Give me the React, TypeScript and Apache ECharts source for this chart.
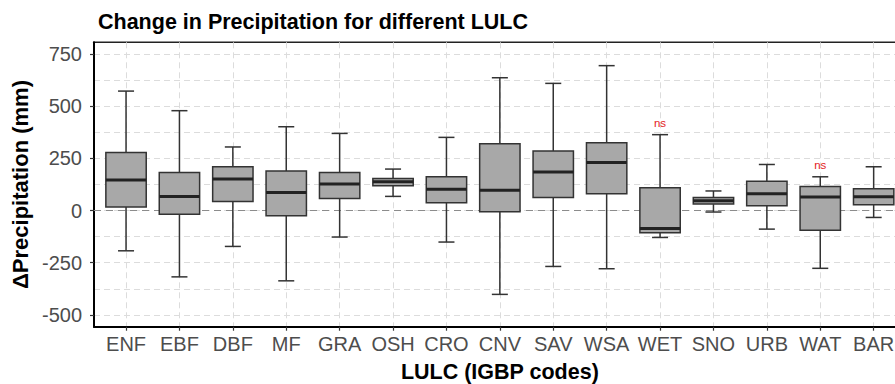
import React, { useEffect, useRef } from "react";
import * as echarts from "echarts";

const categories = ["ENF", "EBF", "DBF", "MF", "GRA", "OSH", "CRO", "CNV", "SAV", "WSA", "WET", "SNO", "URB", "WAT", "BAR"];
const whiskerLow = [-193, -318, -172, -337, -127, 68, -151, -402, -268, -279, -129, -7, -89, -277, -33];
const q1 = [17, -18, 44, -25, 58, 119, 38, -6, 63, 81, -106, 31, 23, -95, 28];
const median = [146, 68, 151, 87, 127, 138, 102, 97, 185, 231, -86, 47, 81, 65, 66];
const q3 = [279, 183, 210, 190, 183, 154, 162, 321, 286, 325, 110, 63, 140, 116, 105];
const whiskerHigh = [573, 479, 305, 402, 370, 199, 351, 637, 610, 695, 364, 94, 221, 162, 210];
const sigLabels = ["", "", "", "", "", "", "", "", "", "", "ns", "", "", "ns", ""];
const yMajorTicks = [-500, -250, 0, 250, 500, 750];
const yGridValues = [-500, -375, -250, -125, 0, 125, 250, 375, 500, 625, 750];
const referenceLine = 0;

const FONT = "Liberation Sans, Arial, Helvetica, sans-serif";
const CHART_W = 930;
const CHART_H = 384;

export default function App() {
  const ref = useRef<HTMLDivElement>(null);

  useEffect(() => {
    if (!ref.current) return;
    const chart = echarts.init(ref.current, undefined, { renderer: "svg" });
    const idx = categories.map((_, i) => i);
    const data = categories.map((_, i) => [i, whiskerLow[i], q1[i], median[i], q3[i], whiskerHigh[i]]);
    const plotLeft = 94;
    const plotRight = 905.7;
    const plotTop = 42.3;
    const plotBottom = 326.7;

    chart.setOption({
      animation: false,
      backgroundColor: "#ffffff",
      title: {
        text: "Change in Precipitation for different LULC",
        left: 93,
        top: 6,
        textStyle: { fontFamily: FONT, fontSize: 21.5, fontWeight: "bold", color: "#000000" },
      },
      grid: {
        left: plotLeft,
        right: CHART_W - plotRight,
        top: plotTop,
        bottom: CHART_H - plotBottom,
        containLabel: false,
        outerBoundsMode: "none",
        show: true,
        borderColor: "#222222",
        borderWidth: 1.5,
        backgroundColor: "#ffffff",
      },
      xAxis: {
        type: "value",
        min: -0.6,
        max: 14.6,
        name: "LULC (IGBP codes)",
        nameLocation: "middle",
        nameGap: 34,
        nameTextStyle: { fontFamily: FONT, fontSize: 21.5, fontWeight: "bold", color: "#000000" },
        axisLine: { show: true, onZero: false, lineStyle: { color: "#000000", width: 2 } },
        axisTick: { show: true, length: 4, customValues: idx, lineStyle: { color: "#333333", width: 1.2 } },
        axisLabel: {
          customValues: idx,
          margin: 7,
          fontFamily: FONT,
          fontSize: 20,
          color: "#4d4d4d",
          formatter: (v: number) => categories[Math.round(v)] ?? "",
        },
        splitLine: { show: true, lineStyle: { color: "#dcdcdc", width: 1, type: [6, 4] } },
      },
      yAxis: [
        {
          type: "value",
          min: -557,
          max: 807,
          axisLine: { show: false },
          axisLabel: { show: false },
          axisTick: { show: false, customValues: yGridValues },
          splitLine: { show: true, lineStyle: { color: "#dcdcdc", width: 1, type: [6, 4] } },
        },
        {
          type: "value",
          min: -557,
          max: 807,
          position: "left",
          name: "ΔPrecipitation (mm)",
          nameLocation: "middle",
          nameGap: 57,
          nameRotate: 90,
          nameTextStyle: { fontFamily: FONT, fontSize: 22, fontWeight: "bold", color: "#000000" },
          axisLine: { show: true, onZero: false, lineStyle: { color: "#000000", width: 2 } },
          axisTick: { show: true, length: 4, customValues: yMajorTicks, lineStyle: { color: "#333333", width: 1.2 } },
          axisLabel: {
            customValues: yMajorTicks,
            margin: 12,
            fontFamily: FONT,
            fontSize: 20,
            color: "#4d4d4d",
          },
          splitLine: { show: false },
        },
      ],
      series: [
        {
          type: "custom",
          xAxisIndex: 0,
          yAxisIndex: 0,
          z: 10,
          encode: { x: 0, y: [1, 2, 3, 4, 5] },
          data,
          markLine: {
            silent: true,
            symbol: "none",
            label: { show: false },
            lineStyle: { color: "#8c8c8c", width: 1.1, type: [7, 5] },
            data: [{ yAxis: referenceLine }],
          },
          renderItem: (params: any, api: any) => {
            const x = api.value(0);
            const lo = api.coord([x, api.value(1)]);
            const b1 = api.coord([x, api.value(2)]);
            const md = api.coord([x, api.value(3)]);
            const b3 = api.coord([x, api.value(4)]);
            const hi = api.coord([x, api.value(5)]);
            const band = api.size([1, 0])[0];
            const hw = band * 0.378;
            const cw = band * 0.15;
            const cx = lo[0];
            const stroke = "#333333";
            const children: any[] = [
              { type: "line", shape: { x1: cx, y1: hi[1], x2: cx, y2: b3[1] }, style: { stroke, lineWidth: 1.5 } },
              { type: "line", shape: { x1: cx, y1: b1[1], x2: cx, y2: lo[1] }, style: { stroke, lineWidth: 1.5 } },
              { type: "line", shape: { x1: cx - cw, y1: hi[1], x2: cx + cw, y2: hi[1] }, style: { stroke, lineWidth: 1.5 } },
              { type: "line", shape: { x1: cx - cw, y1: lo[1], x2: cx + cw, y2: lo[1] }, style: { stroke, lineWidth: 1.5 } },
              {
                type: "rect",
                shape: { x: cx - hw, y: b3[1], width: hw * 2, height: b1[1] - b3[1] },
                style: { fill: "#a8a8a8", stroke, lineWidth: 1.5 },
              },
              { type: "line", shape: { x1: cx - hw, y1: md[1], x2: cx + hw, y2: md[1] }, style: { stroke: "#222222", lineWidth: 3 } },
            ];
            const lab = sigLabels[params.dataIndex];
            if (lab) {
              children.push({
                type: "text",
                x: cx,
                y: hi[1] - 6,
                style: { text: lab, fill: "#e41a1c", fontSize: 11.5, fontFamily: FONT, align: "center", verticalAlign: "bottom" },
              });
            }
            return { type: "group", children };
          },
        },
      ],
    });
    return () => chart.dispose();
  }, []);

  return (
    <div style={{ position: "fixed", left: 0, top: 0, width: 895, height: 384, overflow: "hidden", background: "#fff" }}>
      <div ref={ref} style={{ width: CHART_W, height: CHART_H }} />
    </div>
  );
}
